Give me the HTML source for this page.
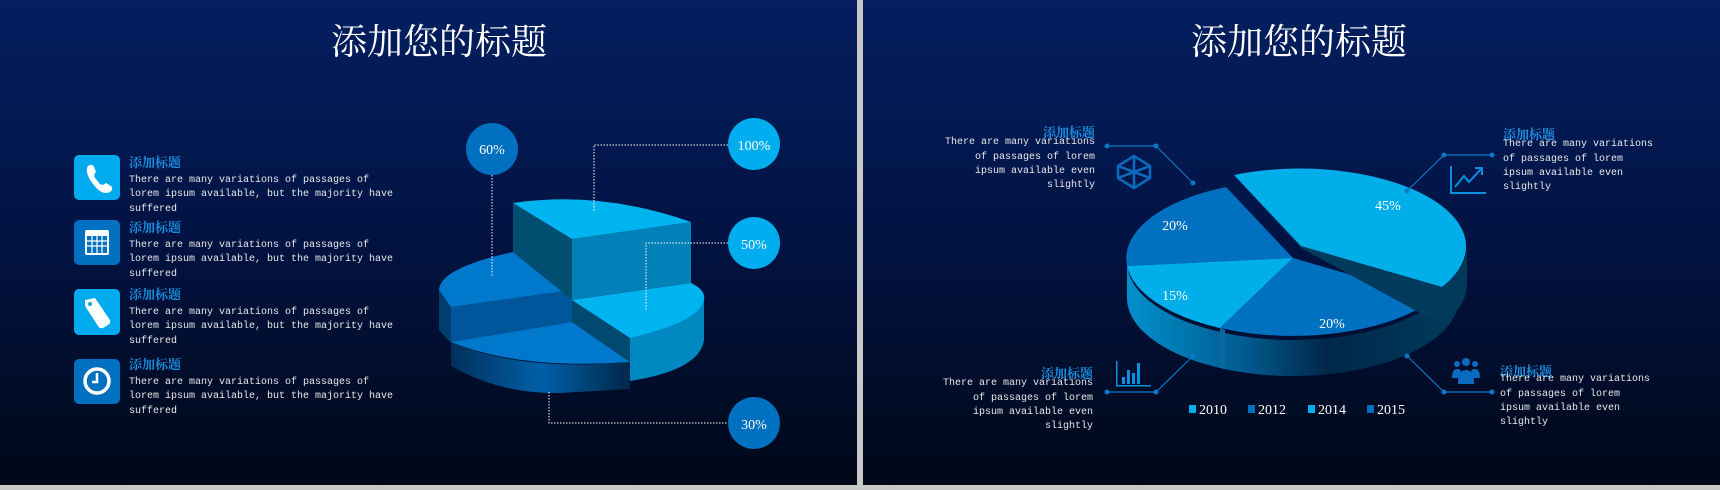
<!DOCTYPE html>
<html><head><meta charset="utf-8"><style>
html,body{margin:0;padding:0;width:1720px;height:490px;overflow:hidden;background:#c8c8c8}
svg{display:block}
.t{font-family:"Liberation Serif","Noto Serif CJK SC",serif;fill:#fff}
.h{font-family:"Liberation Serif","Noto Serif CJK SC",serif;fill:#1a8fe0;font-size:13px;font-weight:bold}
.b{font-family:"Liberation Mono",monospace;fill:#e8e8e8;font-size:10px}
.p{font-family:"Liberation Serif",serif;fill:#fff;font-size:14px}
</style></head><body>
<svg width="1720" height="490" viewBox="0 0 1720 490">
<defs>
<linearGradient id="bg" x1="0" y1="0" x2="0" y2="1"><stop offset="0" stop-color="#031f60"/><stop offset="0.5" stop-color="#021342"/><stop offset="1" stop-color="#000818"/></linearGradient>
<linearGradient id="sideL" x1="0" y1="0" x2="1" y2="0"><stop offset="0" stop-color="#00305a"/><stop offset="0.5" stop-color="#0060a8"/><stop offset="1" stop-color="#00284a"/></linearGradient>
<linearGradient id="sideR" x1="0" y1="0" x2="1" y2="0"><stop offset="0" stop-color="#0090cc"/><stop offset="0.35" stop-color="#005c90"/><stop offset="0.6" stop-color="#00284a"/><stop offset="1" stop-color="#003a5a"/></linearGradient>
</defs>
<rect x="0" y="0" width="857" height="485" fill="url(#bg)"/>
<rect x="863" y="0" width="857" height="485" fill="url(#bg)"/>

<!-- LEFT PANEL -->
<text class="t" x="439" y="54" font-size="36" text-anchor="middle">添加您的标题</text>

<rect x="74" y="155" width="46" height="45" rx="5" fill="#00aaee"/>
<path d="M88 166 q4 -3 6 1 l2 5 q-3 3 -1 6 l5 6 q3 2 6 -1 l5 3 q3 3 -1 6 q-8 4 -17 -8 q-9 -12 -5 -18z" fill="#fff"/>
<rect x="74" y="220" width="46" height="45" rx="5" fill="#0070c0"/>
<rect x="85" y="230" width="24" height="25" rx="2" fill="#fff"/>
<g fill="#0070c0"><rect x="87" y="236" width="20" height="17"/></g>
<g stroke="#fff" stroke-width="1.2"><line x1="87" y1="241" x2="107" y2="241"/><line x1="87" y1="246" x2="107" y2="246"/><line x1="92" y1="236" x2="92" y2="253"/><line x1="97" y1="236" x2="97" y2="253"/><line x1="102" y1="236" x2="102" y2="253"/></g>
<rect x="74" y="289" width="46" height="46" rx="5" fill="#00aaee"/>
<path d="M85 300 l10 -2 l15 22 q1 3 -2 5 l-5 3 q-3 1 -5 -2 l-13 -20z" fill="#fff"/>
<circle cx="90" cy="304" r="2" fill="#00aaee"/>
<rect x="74" y="359" width="46" height="45" rx="5" fill="#0070c0"/>
<circle cx="97" cy="381" r="12" fill="none" stroke="#fff" stroke-width="3.5"/>
<path d="M97 373 v9 h-5" fill="none" stroke="#fff" stroke-width="2.5"/>

<g>
<text class="h" x="129" y="167">添加标题</text>
<text class="b" x="129" y="182">There are many variations of passages of</text>
<text class="b" x="129" y="196">lorem ipsum available, but the majority have</text>
<text class="b" x="129" y="211">suffered</text>
<text class="h" x="129" y="232">添加标题</text>
<text class="b" x="129" y="247">There are many variations of passages of</text>
<text class="b" x="129" y="261">lorem ipsum available, but the majority have</text>
<text class="b" x="129" y="276">suffered</text>
<text class="h" x="129" y="299">添加标题</text>
<text class="b" x="129" y="314">There are many variations of passages of</text>
<text class="b" x="129" y="328">lorem ipsum available, but the majority have</text>
<text class="b" x="129" y="343">suffered</text>
<text class="h" x="129" y="369">添加标题</text>
<text class="b" x="129" y="384">There are many variations of passages of</text>
<text class="b" x="129" y="398">lorem ipsum available, but the majority have</text>
<text class="b" x="129" y="413">suffered</text>
</g>

<!-- left 3D stepped pie -->
<path d="M451 342 L451 366 Q500 394 560 393 L630 389 L630 362 Q520 372 451 342Z" fill="url(#sideL)"/>
<path d="M439 290 L439 330 L451 343 L451 307Z" fill="#003e70"/>
<path d="M451 307 L572 290 L572 322 L451 342Z" fill="#00569a"/>
<path d="M513 252 Q440 268 439 290 L451 307 L572 290Z" fill="#0078cc"/>
<path d="M451 342 L572 322 L630 362 Q520 370 451 342Z" fill="#0078cc"/>
<path d="M572 300 L630 338 L630 362 L572 322Z" fill="#004a72"/>
<path d="M630 338 Q700 322 704 300 L704 340 Q700 370 630 381Z" fill="#0088c0"/>
<path d="M572 300 L691 283 Q706 290 704 300 Q700 322 630 338Z" fill="#00b4f0"/>
<path d="M513 203 L572 239 L572 300 L513 252Z" fill="#004e70"/>
<path d="M572 239 L691 222 L691 283 L572 300Z" fill="#0082b8"/>
<path d="M513 203 Q600 190 691 222 L572 239Z" fill="#00b4f0"/>

<g stroke="#fff" stroke-width="1" stroke-dasharray="1.5 1.5" fill="none">
<path d="M728 145 H594 V212"/>
<path d="M728 243 H646 V311"/>
<path d="M492 175 V277"/>
<path d="M549 392 V423 H728"/>
</g>
<circle cx="492" cy="149" r="26" fill="#0070c0"/>
<circle cx="754" cy="144" r="26" fill="#00aeef"/>
<circle cx="754" cy="243" r="26" fill="#00aeef"/>
<circle cx="754" cy="423" r="26" fill="#0070c0"/>
<text class="p" x="492" y="154" text-anchor="middle" font-size="13">60%</text>
<text class="p" x="754" y="150" text-anchor="middle">100%</text>
<text class="p" x="754" y="249" text-anchor="middle">50%</text>
<text class="p" x="754" y="429" text-anchor="middle">30%</text>

<!-- RIGHT PANEL -->
<text class="t" x="1299" y="54" font-size="36" text-anchor="middle">添加您的标题</text>

<!-- main pie side -->
<path d="M1127 262 A166 78 0 0 0 1459 262 L1459 298 A166 78 0 0 1 1127 298Z" fill="url(#sideR)"/>
<path d="M1220 328 L1220 368 L1225 369 L1225 330Z" fill="#0a6aa0"/>
<!-- main slices -->
<path d="M1293 258 L1226 187 A166 78 0 0 0 1127 266Z" fill="#0070c0"/>
<path d="M1293 258 L1127 266 A166 78 0 0 0 1220 328Z" fill="#00aeea"/>
<path d="M1293 258 L1220 328 A166 78 0 0 0 1434 299Z" fill="#0070c0"/>
<!-- exploded 45% -->
<path d="M1442 287 L1442 325 L1301 248 L1234 175 L1301 246Z" fill="#003a5c"/>
<path d="M1467 246 A166 78 0 0 1 1442 287 L1442 325 A166 78 0 0 0 1467 284Z" fill="#003a5a"/>
<path d="M1301 246 L1442 287 A166 78 0 0 0 1234 175Z" fill="#00aeea"/>

<text class="p" x="1388" y="210" text-anchor="middle">45%</text>
<text class="p" x="1175" y="230" text-anchor="middle">20%</text>
<text class="p" x="1175" y="300" text-anchor="middle">15%</text>
<text class="p" x="1332" y="328" text-anchor="middle">20%</text>

<!-- legend -->
<rect x="1189" y="405" width="7" height="8" fill="#00aeea"/><text class="p" x="1199" y="414">2010</text>
<rect x="1248" y="405" width="7" height="8" fill="#0070c0"/><text class="p" x="1258" y="414">2012</text>
<rect x="1308" y="405" width="7" height="8" fill="#00aeea"/><text class="p" x="1318" y="414">2014</text>
<rect x="1367" y="405" width="7" height="8" fill="#0070c0"/><text class="p" x="1377" y="414">2015</text>

<!-- connectors -->
<g stroke="#0a78c8" stroke-width="1.2" fill="none">
<path d="M1107 146 H1156 L1193 183"/>
<path d="M1492 155 H1444 L1407 191"/>
<path d="M1107 392 H1156 L1193 356"/>
<path d="M1492 392 H1444 L1407 356"/>
</g>
<g fill="#0a78c8">
<circle cx="1107" cy="146" r="2.5"/><circle cx="1156" cy="146" r="2.5"/><circle cx="1193" cy="183" r="2.5"/>
<circle cx="1492" cy="155" r="2.5"/><circle cx="1444" cy="155" r="2.5"/><circle cx="1407" cy="191" r="2.5"/>
<circle cx="1107" cy="392" r="2.5"/><circle cx="1156" cy="392" r="2.5"/><circle cx="1193" cy="356" r="2.5"/>
<circle cx="1492" cy="392" r="2.5"/><circle cx="1444" cy="392" r="2.5"/><circle cx="1407" cy="356" r="2.5"/>
</g>

<!-- icons -->
<g stroke="#0a6cc0" stroke-width="2.5" fill="none">
<path d="M1134 156 L1150 166 L1150 178 L1134 188 L1118 178 L1118 166Z"/>
<path d="M1118 166 L1150 178 M1150 166 L1118 178 M1134 156 L1134 188"/>
</g>
<g stroke="#0a90e0" stroke-width="2" fill="none">
<path d="M1451 166 V193 H1486"/>
<path d="M1455 187 L1464 176 L1469 182 L1481 169"/>
<path d="M1475 168 H1482 V175"/>
</g>
<g fill="#0a90e0">
<rect x="1116" y="361" width="1.5" height="25"/><rect x="1116" y="385" width="35" height="1.5"/>
<rect x="1122" y="377" width="3" height="7"/><rect x="1127" y="370" width="3" height="14"/><rect x="1132" y="373" width="3" height="11"/><rect x="1137" y="363" width="3" height="21"/>
</g>
<g fill="#0a6cc0">
<circle cx="1466" cy="362" r="4"/><circle cx="1457" cy="364" r="3"/><circle cx="1475" cy="364" r="3"/>
<path d="M1458 384 q0 -14 8 -14 q8 0 8 14z"/>
<path d="M1452 378 q0 -9 5 -9 q3 0 4 2 l-2 7z"/><path d="M1480 378 q0 -9 -5 -9 q-3 0 -4 2 l2 7z"/>
</g>

<!-- annotation texts -->
<text class="h" x="1095" y="137" text-anchor="end">添加标题</text>
<g text-anchor="end">
<text class="b" x="1095" y="144">There are many variations</text>
<text class="b" x="1095" y="159">of passages of lorem</text>
<text class="b" x="1095" y="173">ipsum available even</text>
<text class="b" x="1095" y="187">slightly</text>
</g>
<text class="h" x="1503" y="139">添加标题</text>
<text class="b" x="1503" y="146">There are many variations</text>
<text class="b" x="1503" y="161">of passages of lorem</text>
<text class="b" x="1503" y="175">ipsum available even</text>
<text class="b" x="1503" y="189">slightly</text>
<text class="h" x="1093" y="378" text-anchor="end">添加标题</text>
<g text-anchor="end">
<text class="b" x="1093" y="385">There are many variations</text>
<text class="b" x="1093" y="400">of passages of lorem</text>
<text class="b" x="1093" y="414">ipsum available even</text>
<text class="b" x="1093" y="428">slightly</text>
</g>
<text class="h" x="1500" y="376">添加标题</text>
<text class="b" x="1500" y="381">There are many variations</text>
<text class="b" x="1500" y="396">of passages of lorem</text>
<text class="b" x="1500" y="410">ipsum available even</text>
<text class="b" x="1500" y="424">slightly</text>
</svg>
</body></html>
